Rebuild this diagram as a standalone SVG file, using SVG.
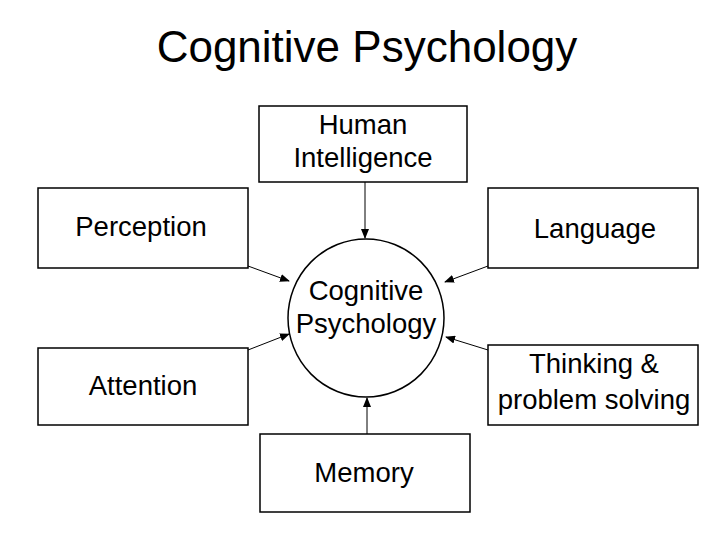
<svg xmlns="http://www.w3.org/2000/svg" width="728" height="546" viewBox="0 0 728 546">
<style>
text{font-family:"Liberation Sans",Arial,sans-serif;fill:#000}
.b{fill:#fff;stroke:#000;stroke-width:1.5}
.t{font-size:27.5px;text-anchor:middle}
.c line{stroke:#000;stroke-width:1;marker-end:url(#a)}
</style>
<defs><marker id="a" markerWidth="10" markerHeight="8" refX="9" refY="4" orient="auto" markerUnits="userSpaceOnUse"><path d="M0,0L10,4L0,8z" fill="#000"/></marker></defs>
<rect width="728" height="546" fill="#fff"/>
<text x="367" y="62" font-size="44" text-anchor="middle">Cognitive Psychology</text>
<g class="c">
<line x1="365" y1="182" x2="365" y2="238"/>
<line x1="248" y1="266" x2="289" y2="281"/>
<line x1="488" y1="266" x2="445" y2="282"/>
<line x1="248" y1="350" x2="289" y2="334"/>
<line x1="488" y1="350" x2="446" y2="337"/>
<line x1="367" y1="434" x2="367" y2="398"/>
</g>
<g id="center"><ellipse class="b" cx="366" cy="318" rx="78" ry="79"/><text class="t" x="366" y="300">Cognitive</text><text class="t" x="366" y="333">Psychology</text></g>
<g id="human"><rect class="b" x="259" y="106" width="208" height="76"/><text class="t" x="363" y="134">Human</text><text class="t" x="363" y="167">Intelligence</text></g>
<g id="perception"><rect class="b" x="38" y="188" width="210" height="80"/><text class="t" x="141" y="236">Perception</text></g>
<g id="language"><rect class="b" x="488" y="188" width="210" height="80"/><text class="t" x="595" y="238">Language</text></g>
<g id="attention"><rect class="b" x="38" y="348" width="210" height="77"/><text class="t" x="143" y="395">Attention</text></g>
<g id="thinking"><rect class="b" x="488" y="345" width="210" height="80"/><text class="t" x="594" y="373">Thinking &amp;</text><text class="t" x="594" y="409">problem solving</text></g>
<g id="memory"><rect class="b" x="260" y="434" width="210" height="78"/><text class="t" x="364" y="482">Memory</text></g>
</svg>
